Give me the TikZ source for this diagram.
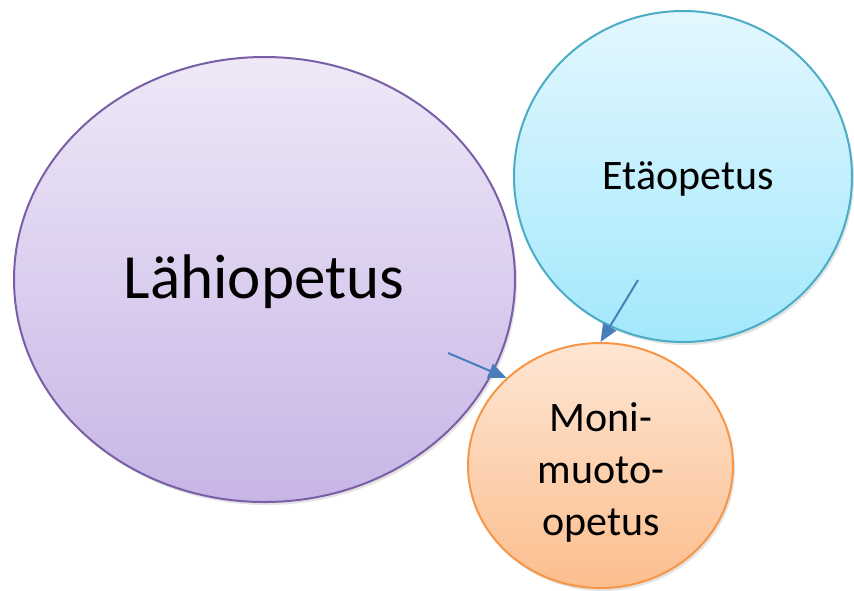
\documentclass[tikz,border=0pt]{standalone}
\usepackage{fontspec}
\setmainfont{Carlito}
\usetikzlibrary{arrows.meta,shapes.geometric,shadows}
\definecolor{lahitop}{RGB}{238,232,247}
\definecolor{lahibot}{RGB}{200,181,230}
\definecolor{lahiline}{RGB}{122,94,166}
\definecolor{etatop}{RGB}{227,247,254}
\definecolor{etabot}{RGB}{163,232,252}
\definecolor{etaline}{RGB}{75,172,198}
\definecolor{monitop}{RGB}{254,230,212}
\definecolor{monibot}{RGB}{251,190,142}
\definecolor{moniline}{RGB}{247,150,70}
\definecolor{arrowcol}{RGB}{74,126,187}

\begin{document}
\begin{tikzpicture}[x=1pt,y=-1pt,
  blob/.style={ellipse,inner sep=0pt,line width=2pt,align=center,
    drop shadow={opacity=0.22,shadow xshift=2pt,shadow yshift=-3pt}},
  link/.style={-{Triangle[length=18pt,width=15pt]},arrowcol,line width=2pt}]
  \useasboundingbox (0,0) rectangle (854,590);
  \node[blob,draw=lahiline,top color=lahitop,bottom color=lahibot,
    minimum width=501pt,minimum height=445pt] (lahi) at (264.5,279.5) {};
  \node[font=\fontsize{63}{70}\selectfont] (lahitext) at (264,282) {Lähiopetus};
  \node[blob,draw=etaline,top color=etatop,bottom color=etabot,
    minimum width=338pt,minimum height=331pt] (eta) at (683,176.5) {};
  \node[font=\fontsize{42}{48}\selectfont] (etatext) at (688,179) {Etäopetus};
  \node[blob,draw=moniline,top color=monitop,bottom color=monibot,
    minimum width=265pt,minimum height=245pt] (moni) at (600.5,465.5) {};
  \node[font=\fontsize{42}{52}\selectfont,align=center] (monitext) at (601,472)
    {Moni-\\muoto-\\opetus};
  \coordinate (lahistart) at (448,353);
  \coordinate (etastart) at (638,280);
  \draw[link] (lahistart) -- (moni.137);
  \draw[link] (etastart) -- (moni.north);
\end{tikzpicture}
\end{document}
